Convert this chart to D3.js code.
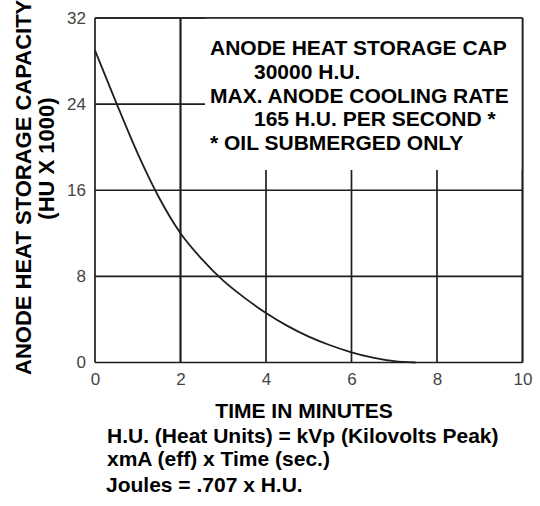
<!DOCTYPE html>
<html>
<head>
<meta charset="utf-8">
<script src="https://cdn.jsdelivr.net/npm/d3@7"></script>
<style>
  html, body { margin: 0; padding: 0; background: #fff; }
  svg { display: block; }
  .lbl { font-family: "Liberation Sans", Arial, Helvetica, sans-serif; font-weight: bold; fill: #000; }
  .tick { font-family: "Liberation Sans", Arial, Helvetica, sans-serif; fill: #444; }
</style>
</head>
<body>
<script>
// Anode cooling curve: stored heat (HU x 1000) versus time in minutes
const timeMinutes = [0, 0.5, 1, 1.5, 2, 2.5, 3, 3.5, 4, 4.5, 5, 5.5, 6, 6.5, 7, 7.5];
const heatStored  = [29, 24.1, 19.4, 15.3, 12, 9.6, 7.6, 6.0, 4.6, 3.4, 2.4, 1.6, 0.95, 0.45, 0.12, 0];
const xTicks = [0, 2, 4, 6, 8, 10];
const yTicks = [0, 8, 16, 24, 32];
const noteLines = [
  "ANODE HEAT STORAGE CAP",
  "30000 H.U.",
  "MAX. ANODE COOLING RATE",
  "165 H.U. PER SECOND *",
  "* OIL SUBMERGED ONLY"
];
const noteIndent = [false, true, false, true, false];
const footLines = [
  "H.U. (Heat Units) = kVp (Kilovolts Peak)",
  "xmA (eff) x Time (sec.)",
  "Joules = .707 x H.U."
];

const W = 540, H = 506;
const svg = d3.select("body").append("svg").attr("width", W).attr("height", H);

const x = d3.scaleLinear().domain([0, 10]).range([95, 522.5]);
const y = d3.scaleLinear().domain([0, 32]).range([362.5, 18]);

const ink = "#1e1e1e";

// grid lines
const grid = svg.append("g").attr("stroke", ink).attr("stroke-width", 1.7);
grid.selectAll("line.v").data(xTicks).join("line")
  .attr("x1", d => x(d)).attr("x2", d => x(d))
  .attr("y1", y(0)).attr("y2", y(32));
grid.selectAll("line.h").data(yTicks).join("line")
  .attr("x1", x(0)).attr("x2", x(10))
  .attr("y1", d => y(d)).attr("y2", d => y(d));

// white panel holding the tube ratings, laid over the upper-right grid
svg.append("rect")
  .attr("x", 205).attr("y", y(32))
  .attr("width", x(10) - 205).attr("height", 170 - y(32))
  .attr("fill", "#fff");

// frame edges drawn over the panel
svg.append("line").attr("x1", x(0)).attr("x2", x(10)).attr("y1", y(32)).attr("y2", y(32))
  .attr("stroke", ink).attr("stroke-width", 1.7);
svg.append("line").attr("x1", x(10)).attr("x2", x(10)).attr("y1", y(32)).attr("y2", y(0))
  .attr("stroke", ink).attr("stroke-width", 1.7);
svg.append("line").attr("x1", x(2)).attr("x2", x(2)).attr("y1", y(32)).attr("y2", y(0))
  .attr("stroke", ink).attr("stroke-width", 1.7);

// cooling curve
const line = d3.line()
  .x((d, i) => x(timeMinutes[i]))
  .y(d => y(d))
  .curve(d3.curveMonotoneX);
svg.append("path")
  .datum(heatStored)
  .attr("d", line)
  .attr("fill", "none")
  .attr("stroke", ink)
  .attr("stroke-width", 1.8);

// axes built from the scales, styled as plain labels
const xAxis = svg.append("g").attr("transform", `translate(0,${y(0)})`)
  .call(d3.axisBottom(x).tickValues(xTicks).tickSize(0).tickPadding(10));
const yAxis = svg.append("g").attr("transform", `translate(${x(0)},0)`)
  .call(d3.axisLeft(y).tickValues(yTicks).tickSize(0).tickPadding(9));
[xAxis, yAxis].forEach(a => {
  a.select(".domain").remove();
  a.selectAll("text").attr("class", "tick").attr("font-size", 17).attr("fill", "#444");
});
xAxis.selectAll("text").attr("dy", "0.71em");

// note panel text
svg.append("g").selectAll("text").data(noteLines).join("text")
  .attr("class", "lbl")
  .attr("font-size", 21)
  .attr("x", (d, i) => noteIndent[i] ? 254 : 210)
  .attr("y", (d, i) => 55 + i * 23.75)
  .text(d => d);

// y axis title (two lines)
svg.append("text").attr("class", "lbl").attr("font-size", 22)
  .attr("transform", "translate(31,375) rotate(-90)")
  .attr("text-anchor", "start")
  .text("ANODE HEAT STORAGE CAPACITY");
svg.append("text").attr("class", "lbl").attr("font-size", 22)
  .attr("transform", "translate(54,158.5) rotate(-90)")
  .attr("text-anchor", "middle")
  .text("(HU X 1000)");

// x axis title
svg.append("text").attr("class", "lbl").attr("font-size", 21)
  .attr("x", 304).attr("y", 418)
  .attr("text-anchor", "middle")
  .text("TIME IN MINUTES");

// formula notes
const footY = [443, 466, 492];
const footX = [107, 107, 106];
svg.append("g").selectAll("text").data(footLines).join("text")
  .attr("class", "lbl")
  .attr("font-size", 21)
  .attr("x", (d, i) => footX[i])
  .attr("y", (d, i) => footY[i])
  .text(d => d);
</script>
</body>
</html>
